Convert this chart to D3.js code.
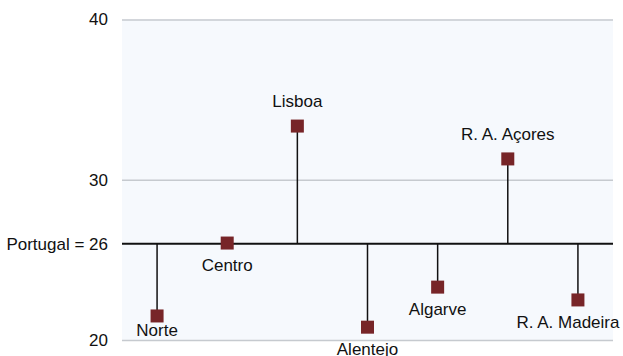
<!DOCTYPE html>
<html><head><meta charset="utf-8">
<script src="https://cdn.jsdelivr.net/npm/d3@7"></script>
<style>html,body{margin:0;padding:0;background:#fff}svg{display:block}text{font-family:"Liberation Sans",Arial,sans-serif}</style>
</head><body>
<svg id="c" width="623" height="356"></svg>
<script>
const regions = ["Norte","Centro","Lisboa","Alentejo","Algarve","R. A. Açores","R. A. Madeira"];
const values = [21.5, 26.05, 33.35, 20.8, 23.3, 31.3, 22.5];
const baseline = 26;
const baselineLabel = "Portugal = 26";
const yTicks = [20, 30, 40];

const svg = d3.select("#c");
const m = {l:122, r:10, t:19.5, b:16};
const W = 623, H = 356;
const FS = 17;
const x = d3.scaleBand().domain(regions).range([m.l, W - m.r]).padding(0);
const y = d3.scaleLinear().domain([20, 40]).range([H - m.b, m.t]);

svg.append("rect").attr("x", m.l).attr("y", m.t).attr("width", W - m.r - m.l).attr("height", y(20) - m.t).attr("fill", "#f6f9fd");

const yAxis = svg.append("g").attr("transform", `translate(${m.l},0)`)
  .call(d3.axisLeft(y).tickValues(yTicks).tickSize(-(W - m.r - m.l)).tickPadding(14));
yAxis.select(".domain").remove();
yAxis.selectAll(".tick line").attr("stroke", "#c6cacf").attr("stroke-width", 1.5);
yAxis.selectAll(".tick text").attr("font-size", FS).attr("fill", "#111");

// baseline
svg.append("line").attr("x1", m.l).attr("x2", W - m.r).attr("y1", y(baseline)).attr("y2", y(baseline))
  .attr("stroke", "#111").attr("stroke-width", 2);
svg.append("text").attr("x", m.l - 14).attr("y", y(baseline)).attr("dy", "0.35em")
  .attr("text-anchor", "end").attr("font-size", FS).attr("fill", "#111").text(baselineLabel);

const cx = d => x(d) + x.bandwidth() / 2;
const data = regions.map((r, i) => ({r, v: values[i]}));

svg.selectAll(".stem").data(data).join("line")
  .attr("x1", d => cx(d.r)).attr("x2", d => cx(d.r))
  .attr("y1", y(baseline)).attr("y2", d => y(d.v))
  .attr("stroke", "#111").attr("stroke-width", 1.5);

const s = 13;
svg.selectAll(".pt").data(data).join("rect")
  .attr("x", d => cx(d.r) - s/2).attr("y", d => y(d.v) - s/2)
  .attr("width", s).attr("height", s).attr("fill", "#772528");

const labels = svg.selectAll(".lab").data(data).join("text")
  .attr("x", d => cx(d.r))
  .attr("y", d => {
    if (d.v > baseline + 0.5) return y(d.v) - 25;
    if (d.r === "Norte") return y(d.v) + 14;
    return y(d.v) + 22;
  })
  .attr("dy", "0.35em").attr("text-anchor", "middle").attr("font-size", FS).attr("fill", "#111")
  .text(d => d.r);
// keep labels inside the right edge
labels.each(function() {
  const b = this.getBBox();
  const maxR = W - 3;
  if (b.x + b.width > maxR) d3.select(this).attr("x", +d3.select(this).attr("x") - (b.x + b.width - maxR));
});
</script>
</body></html>
